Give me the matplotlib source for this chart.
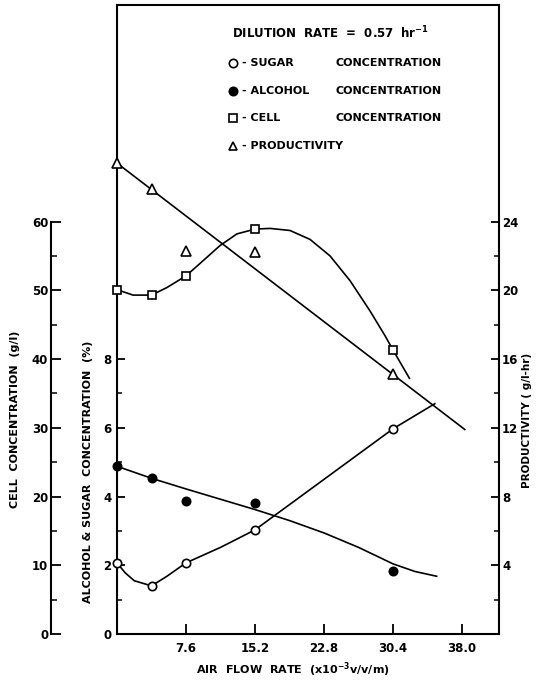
import numpy as np
import matplotlib
matplotlib.use("Agg")
import matplotlib.pyplot as plt
from matplotlib.ticker import FixedLocator

plt.rcParams['font.family'] = ['DejaVu Sans']
plt.rcParams['font.weight'] = 'bold'
plt.rcParams['mathtext.default'] = 'bf'

# measured points (air flow rate, x10^-3 v/v/m)
air_flow = [0.0, 3.8, 7.6, 15.2, 30.4]
sugar = [2.07, 1.40, 2.07, 3.03, 5.97]          # %
alcohol = [4.88, 4.53, 3.87, 3.81, 1.83]        # %
cell = [50.1, 49.3, 52.1, 58.9, 41.3]           # g/l
productivity = [27.4, 25.9, 22.3, 22.2, 15.1]   # g/l-hr

# hand-drawn curves
cell_curve_x = [0.0, 1.76, 3.8, 5.5, 7.6, 9.14, 11.34, 13.2, 15.2, 16.85,
                19.05, 21.26, 23.46, 25.66, 27.86, 29.51, 30.4, 32.2]
cell_curve_y = [50.1, 49.3, 49.3, 50.4, 52.1, 53.9, 56.5, 58.2, 58.9, 59.0,
                58.7, 57.4, 55.0, 51.4, 47.0, 43.4, 41.3, 37.2]
sugar_curve_x = [0.0, 0.9, 1.9, 3.8, 5.5, 7.6, 11.4, 15.2, 22.8, 30.4, 35.0]
sugar_curve_y = [2.07, 1.78, 1.55, 1.40, 1.68, 2.07, 2.52, 3.03, 4.50, 5.97, 6.70]
alcohol_curve_x = [0.0, 3.8, 7.6, 11.4, 15.2, 19.0, 22.8, 26.6, 30.4, 32.8, 35.2]
alcohol_curve_y = [4.88, 4.53, 4.22, 3.92, 3.62, 3.30, 2.94, 2.52, 2.04, 1.82, 1.68]
prod_line_x = [0.0, 38.3]
prod_line_y = [27.4, 11.9]

x_ticks = [7.6, 15.2, 22.8, 30.4, 38.0]
x_tick_labels = ['7.6', '15.2', '22.8', '30.4', '38.0']

W, H = 538, 683
fig = plt.figure(figsize=(W / 100, H / 100), dpi=100)
ax = fig.add_axes([117 / W, 49 / H, 382.3 / W, 629 / H])
ax_cell = ax.twinx()
ax_prod = ax.twinx()

lw_spine = 1.5
lw_curve = 1.2
k = 'black'

# main axis: alcohol & sugar
ax.set_xlim(0, 42.1)
ax.set_ylim(0, 18.3)
for s in ax.spines.values():
    s.set_linewidth(lw_spine)
ax.spines['right'].set_visible(False)
ax.set_xticks(x_ticks)
ax.set_xticklabels(x_tick_labels)
ax.set_yticks([0, 2, 4, 6, 8])
ax.yaxis.set_minor_locator(FixedLocator([1, 3, 5, 7]))
ax.tick_params(axis='x', direction='in', length=7, width=1.3, pad=6, labelsize=8.5)
ax.tick_params(axis='y', which='major', direction='in', length=6, width=1.3, pad=4, labelsize=8.5)
ax.tick_params(axis='y', which='minor', direction='in', length=3.5, width=1.1)

# outer cell axis
ax_cell.set_ylim(0, 91.5)
for name in ['top', 'right', 'bottom']:
    ax_cell.spines[name].set_visible(False)
ax_cell.spines['left'].set_visible(True)
ax_cell.spines['left'].set_position(('outward', 47.5))
ax_cell.spines['left'].set_bounds(0, 60)
ax_cell.spines['left'].set_linewidth(lw_spine)
ax_cell.yaxis.set_ticks_position('left')
ax_cell.yaxis.set_label_position('left')
ax_cell.set_yticks([0, 10, 20, 30, 40, 50, 60])
ax_cell.yaxis.set_minor_locator(FixedLocator([5, 15, 25, 35, 45, 55]))
ax_cell.tick_params(axis='y', which='major', direction='in', length=7, width=1.3, pad=2, labelsize=8.5)
ax_cell.tick_params(axis='y', which='minor', direction='in', length=4, width=1.1)

# right productivity axis
ax_prod.set_ylim(0, 36.6)
for name in ['top', 'left', 'bottom']:
    ax_prod.spines[name].set_visible(False)
ax_prod.spines['right'].set_linewidth(lw_spine)
ax_prod.set_yticks([4, 8, 12, 16, 20, 24])
ax_prod.yaxis.set_minor_locator(FixedLocator([2, 6, 10, 14, 18, 22]))
ax_prod.tick_params(axis='y', which='major', direction='in', length=6, width=1.3, pad=2, labelsize=8.5)
ax_prod.tick_params(axis='y', which='minor', direction='in', length=3.5, width=1.1)

# curves
ax_prod.plot(prod_line_x, prod_line_y, color=k, lw=lw_curve, zorder=2)
ax_cell.plot(cell_curve_x, cell_curve_y, color=k, lw=lw_curve, zorder=2,
             solid_joinstyle='round')
ax.plot(sugar_curve_x, sugar_curve_y, color=k, lw=lw_curve, solid_joinstyle='round')
ax.plot(alcohol_curve_x, alcohol_curve_y, color=k, lw=lw_curve, solid_joinstyle='round')

# markers
mk = dict(ls='none', mec=k, mew=1.2, clip_on=False, zorder=5)
ax.plot(air_flow, sugar, marker='o', ms=6, mfc='white', **mk)
ax.plot(air_flow, alcohol, marker='o', ms=6, mfc=k, **mk)
ax_cell.plot(air_flow, cell, marker='s', ms=6, mfc='white', **mk)
ax_prod.plot(air_flow, productivity, marker='^', ms=7, mfc='white', **mk)

# axis titles
fig.text(15 / W, 1 - 419 / H, 'CELL  CONCENTRATION  (g/l)', rotation=90,
         ha='center', va='center', fontsize=8)
fig.text(88 / W, 1 - 472 / H, 'ALCOHOL & SUGAR  CONCENTRATION  (%)', rotation=90,
         ha='center', va='center', fontsize=8)
fig.text(527 / W, 1 - 420 / H, 'PRODUCTIVITY ( g/l-hr)', rotation=90,
         ha='center', va='center', fontsize=7.5)
fig.text(293 / W, 1 - 670 / H, r'AIR  FLOW  RATE  (x10$^{-3}$v/v/m)',
         ha='center', va='center', fontsize=8)

# legend block
fig.text(232 / W, 1 - 33 / H, r'DILUTION  RATE  =  0.57  hr$^{-1}$',
         ha='left', va='center', fontsize=8.5)
legend_rows = [
    (63, 'o', 'white', '- SUGAR', 'CONCENTRATION'),
    (91, 'o', k, '- ALCOHOL', 'CONCENTRATION'),
    (118, 's', 'white', '- CELL', 'CONCENTRATION'),
    (146, '^', 'white', '- PRODUCTIVITY', ''),
]
for y, m, fc, t1, t2 in legend_rows:
    fig.add_artist(plt.Line2D([233 / W], [1 - y / H], marker=m, ms=6, mfc=fc,
                              mec=k, mew=1.2, ls='none'))
    fig.text(242 / W, 1 - y / H, t1, ha='left', va='center', fontsize=8)
    if t2:
        fig.text(335 / W, 1 - y / H, t2, ha='left', va='center', fontsize=8)

fig.savefig('out.png', dpi=100)
